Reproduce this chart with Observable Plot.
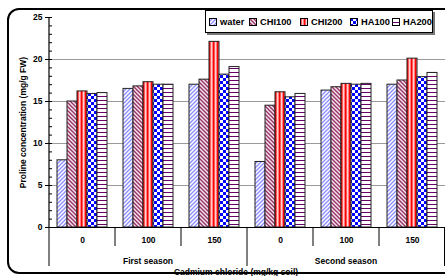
<!DOCTYPE html>
<html><head><meta charset="utf-8">
<script src="https://cdn.jsdelivr.net/npm/d3@7"></script>
<script src="https://cdn.jsdelivr.net/npm/@observablehq/plot@0.6"></script>
<style>
html,body{margin:0;padding:0;width:445px;height:276px;overflow:hidden;background:#fff;font-family:"Liberation Sans",Arial,sans-serif;}
#wrap{position:relative;width:445px;height:276px;overflow:hidden;}
#wrap svg.chart{position:absolute;left:0;top:0;}
#border{position:absolute;left:7px;top:8px;width:460px;height:266px;border:2px solid #000;border-radius:12px;box-sizing:border-box;pointer-events:none;}
#legend{position:absolute;left:205px;top:10px;width:228px;height:23px;box-sizing:border-box;border:1px solid #000;box-shadow:2px 2px 0 #777;background:#fff;font-weight:bold;font-size:9.3px;white-space:nowrap;}
#legend .item{position:absolute;top:0;height:21px;display:flex;align-items:center;}
#legend svg{margin-right:3px;}
#xtitle{position:absolute;left:0;width:472px;text-align:center;top:267px;font-weight:bold;font-size:8.5px;line-height:10px;}
</style>
</head><body>
<svg width="0" height="0" style="position:absolute">
<defs>
<pattern id="p-water" patternUnits="userSpaceOnUse" width="4" height="4">
<rect width="4" height="4" fill="#fff"/>
<path d="M-1,1 l2,-2 M0,4 l4,-4 M3,5 l2,-2" stroke="#8c8cff" stroke-width="1.3"/>
</pattern>
<pattern id="p-chi100" patternUnits="userSpaceOnUse" width="4" height="4">
<rect width="4" height="4" fill="#f4e6ee"/>
<path d="M-1,3 l2,2 M0,0 l4,4 M3,-1 l2,2" stroke="#993366" stroke-width="1.4"/>
</pattern>
<pattern id="p-chi200" patternUnits="userSpaceOnUse" width="4" height="4">
<rect width="4" height="4" fill="#ff8080"/>
<rect x="0" width="1.3" height="4" fill="#ff0000"/>
<rect x="2" width="1" height="4" fill="#ffd0d0"/>
</pattern>
<pattern id="p-ha100" patternUnits="userSpaceOnUse" width="6" height="6">
<rect width="6" height="6" fill="#fff"/>
<rect width="3" height="3" fill="#0000ff"/>
<rect x="3" y="3" width="3" height="3" fill="#0000ff"/>
</pattern>
<pattern id="p-ha200" patternUnits="userSpaceOnUse" width="4" height="4">
<rect width="4" height="4" fill="#fff"/>
<rect y="0" width="4" height="1" fill="#660066"/>
</pattern>
</defs>
</svg>
<div id="wrap">
<div id="chart"></div>
<div id="legend"></div>
<div id="xtitle">Cadmium chloride (mg/kg soil)</div>
<div id="border"></div>
</div>
<script>
// ---- data ----
const seasons = ["First season", "Second season"];
const cadmium = ["0", "100", "150"];
const series = ["water", "CHI100", "CHI200", "HA100", "HA200"];
const water  = [8.0, 16.5, 17.0, 7.8, 16.3, 17.0];
const chi100 = [15.0, 16.8, 17.6, 14.5, 16.7, 17.5];
const chi200 = [16.2, 17.3, 22.1, 16.1, 17.1, 20.1];
const ha100  = [15.9, 17.0, 18.2, 15.5, 17.0, 17.9];
const ha200  = [16.0, 17.0, 19.1, 15.9, 17.1, 18.4];
const yTicks = [0, 5, 10, 15, 20, 25];
const yGrid = [5, 10, 15, 20];
const yMinor = d3.range(0, 26);
const patternIds = {water: "p-water", CHI100: "p-chi100", CHI200: "p-chi200", HA100: "p-ha100", HA200: "p-ha200"};

const groups = seasons.flatMap(s => cadmium.map(c => s + "|" + c));
const valuesBySeries = {water, CHI100: chi100, CHI200: chi200, HA100: ha100, HA200: ha200};
const rows = series.flatMap(s => groups.map((g, i) => ({series: s, group: g, value: valuesBySeries[s][i]})));

const bars = series.map(s => Plot.barY(rows.filter(d => d.series === s), {
  fx: "group", x: "series", y: "value",
  fill: `url(#${patternIds[s]})`, stroke: "#222", strokeWidth: 1
}));

const chart = Plot.plot({
  width: 445, height: 276,
  marginLeft: 48, marginRight: 0, marginTop: 17, marginBottom: 49,
  style: {fontFamily: "'Liberation Sans', Arial, sans-serif", background: "transparent", overflow: "visible"},
  fx: {domain: groups, padding: 0},
  x: {domain: series, paddingInner: 0, paddingOuter: 0.7, axis: null},
  y: {domain: [0, 25]},
  marks: [
    Plot.gridY(yGrid, {stroke: "#9a9a9a", strokeOpacity: 1, strokeWidth: 1}),
    ...bars,
    Plot.ruleY([0], {stroke: "#000", strokeWidth: 1.2}),
    Plot.axisY(yMinor, {tickSize: -3, tickFormat: () => "", label: null, stroke: "#000"}),
    Plot.axisY(yTicks, {tickSize: 4, tickPadding: 3, fontSize: 8.5, fontWeight: "bold", fill: "#000",
      label: "Proline concentration (mg/g FW)", labelAnchor: "center", labelOffset: 30, labelArrow: "none"}),
    Plot.axisFx({anchor: "bottom", tickSize: 0, tickPadding: 9, tickFormat: d => d.split("|")[1],
      fontSize: 8.5, fontWeight: "bold", fill: "#000", label: null})
  ]
});
chart.classList.add("chart");
document.getElementById("chart").appendChild(chart);

// axis lines, group separators and season labels from the library's scales
const fx = chart.scale("fx"), y = chart.scale("y");
const svg = d3.select(chart);
const g = svg.append("g").attr("stroke", "#000").attr("stroke-width", 1);
const y0 = y.apply(0);
const left0 = fx.apply(groups[0]);
g.append("line").attr("x1", left0).attr("x2", left0).attr("y1", y.apply(25)).attr("y2", y0).attr("stroke-width", 1.2);
groups.forEach((k, i) => {
  const x = fx.apply(k);
  const long = i % cadmium.length === 0;
  g.append("line").attr("x1", x).attr("x2", x).attr("y1", y0).attr("y2", y0 + (long ? 39 : 19));
});
const lastRight = fx.apply(groups[groups.length - 1]) + fx.bandwidth;
g.append("line").attr("x1", lastRight - 0.5).attr("x2", lastRight - 0.5).attr("y1", y0).attr("y2", y0 + 39);
seasons.forEach((s, si) => {
  const a = fx.apply(groups[si * cadmium.length]);
  const b = fx.apply(groups[si * cadmium.length + cadmium.length - 1]) + fx.bandwidth;
  svg.append("text").attr("x", (a + b) / 2).attr("y", y0 + 37).attr("text-anchor", "middle")
    .attr("font-size", 8.5).attr("font-weight", "bold").attr("fill", "#000").text(s);
});

// legend (item left offsets inside the box)
const legendLeft = [3, 43, 94, 144, 186];
const legend = d3.select("#legend");
series.forEach((s, i) => {
  const it = legend.append("div").attr("class", "item").style("left", legendLeft[i] + "px");
  const sw = it.append("svg").attr("width", 8).attr("height", 8);
  sw.append("rect").attr("x", 0.5).attr("y", 0.5).attr("width", 7).attr("height", 7)
    .attr("fill", `url(#${patternIds[s]})`).attr("stroke", "#000").attr("stroke-width", 1);
  it.append("span").text(s);
});
</script>
</body></html>
